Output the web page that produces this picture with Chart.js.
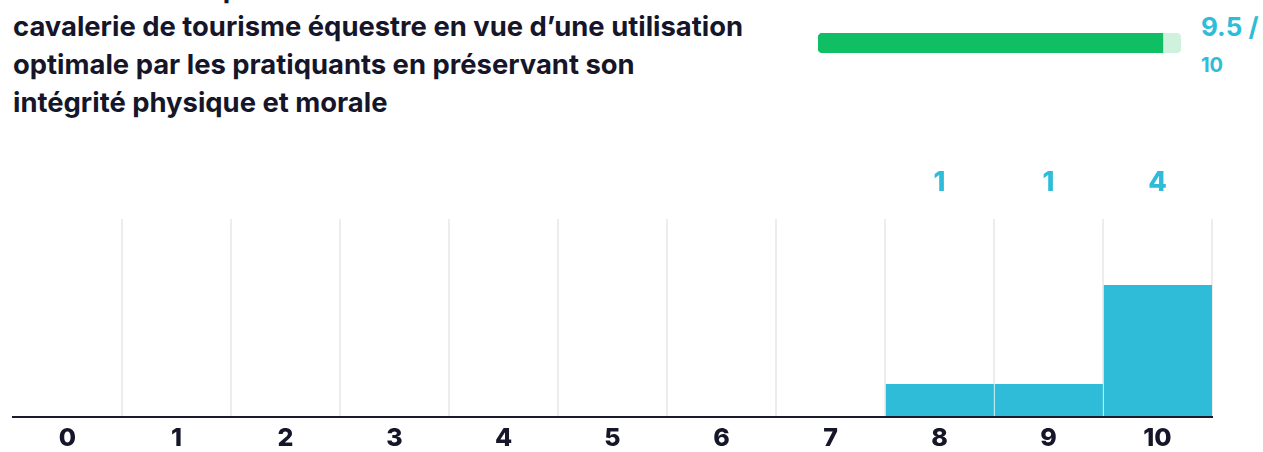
<!DOCTYPE html>
<html lang="fr">
<head>
<meta charset="utf-8">
<script src="https://cdn.jsdelivr.net/npm/chart.js@4"></script>
<style>
  body { margin: 0; width: 1263px; height: 452px; overflow: hidden; background: #fff; font-family: Inter, "Noto Sans", sans-serif; }
  .title { position: absolute; left: 13px; top: -31px; width: 800px; font-size: 27.4px; font-weight: 700; line-height: 38px; color: #16162a; }
  .score-bar { position: absolute; left: 818px; top: 33px; width: 363px; height: 20px; }
  .score { position: absolute; left: 1201px; top: 9px; color: #2ebcd8; font-weight: 700; }
  .score .big { font-size: 26px; line-height: 36px; }
  .score .small { font-size: 20px; line-height: 40px; }
  .chart { position: absolute; left: 0; top: 150px; width: 1263px; height: 309px; }
</style>
</head>
<body>
<div class="title">Entretien et adaptation de la<br>cavalerie de tourisme équestre en vue d’une utilisation<br>optimale par les pratiquants en préservant son<br>intégrité physique et morale</div>
<div class="score-bar"><canvas id="score"></canvas></div>
<div class="score"><div class="big">9.5 /</div><div class="small">10</div></div>
<div class="chart"><canvas id="votes"></canvas></div>
<script>
const notes = ['0', '1', '2', '3', '4', '5', '6', '7', '8', '9', '10'];
const votes = [0, 0, 0, 0, 0, 0, 0, 0, 1, 1, 4];
const moyenne = 9.5;
const noteMax = 10;

const TEAL = '#2ebcd8';
const INK = '#16162a';

// average score as a rounded progress bar
new Chart(document.getElementById('score'), {
  type: 'bar',
  data: {
    labels: ['moyenne'],
    datasets: [
      {
        data: [moyenne],
        backgroundColor: '#10bf63',
        borderRadius: { topLeft: 5, bottomLeft: 5 },
        borderSkipped: false,
      },
      {
        data: [noteMax - moyenne],
        backgroundColor: '#cff2de',
        borderRadius: { topRight: 5, bottomRight: 5 },
        borderSkipped: false,
      },
    ],
  },
  options: {
    indexAxis: 'y',
    responsive: true,
    maintainAspectRatio: false,
    animation: false,
    events: [],
    plugins: { legend: { display: false }, tooltip: { enabled: false } },
    datasets: { bar: { barPercentage: 1, categoryPercentage: 1 } },
    scales: {
      x: { display: false, stacked: true, min: 0, max: noteMax },
      y: { display: false, stacked: true },
    },
  },
});

// vote counts written above the columns (only non-empty ones)
const countLabels = {
  id: 'countLabels',
  afterDraw(chart) {
    const ctx = chart.ctx;
    const meta = chart.getDatasetMeta(0);
    ctx.save();
    ctx.font = '800 27px Inter, sans-serif';
    ctx.fillStyle = TEAL;
    ctx.textAlign = 'center';
    ctx.textBaseline = 'middle';
    meta.data.forEach((bar, i) => {
      const v = chart.data.datasets[0].data[i];
      if (v > 0) ctx.fillText(String(v), bar.x, chart.chartArea.top - 36);
    });
    ctx.restore();
  },
};

new Chart(document.getElementById('votes'), {
  type: 'bar',
  data: {
    labels: notes,
    datasets: [
      {
        data: votes,
        backgroundColor: TEAL,
        borderColor: '#ffffff',
        borderWidth: { left: 1, right: 0, top: 0, bottom: 0 },
        barPercentage: 1,
        categoryPercentage: 1,
      },
    ],
  },
  options: {
    responsive: true,
    maintainAspectRatio: false,
    animation: false,
    events: [],
    layout: { padding: { left: 13, right: 51, top: 69, bottom: 0 } },
    plugins: { legend: { display: false }, tooltip: { enabled: false } },
    scales: {
      x: {
        grid: {
          drawTicks: false,
          lineWidth: 2,
          color: (c) => (c.index === 0 || c.index === notes.length ? 'rgba(0,0,0,0)' : '#ededed'),
        },
        border: { display: true, color: '#1b1a2c', width: 2, z: 1 },
        ticks: {
          padding: 6,
          color: INK,
          font: { family: 'Inter', size: 25, weight: '800' },
        },
      },
      y: { display: false, min: 0, max: 6 },
    },
  },
  plugins: [countLabels],
});
</script>
</body>
</html>
